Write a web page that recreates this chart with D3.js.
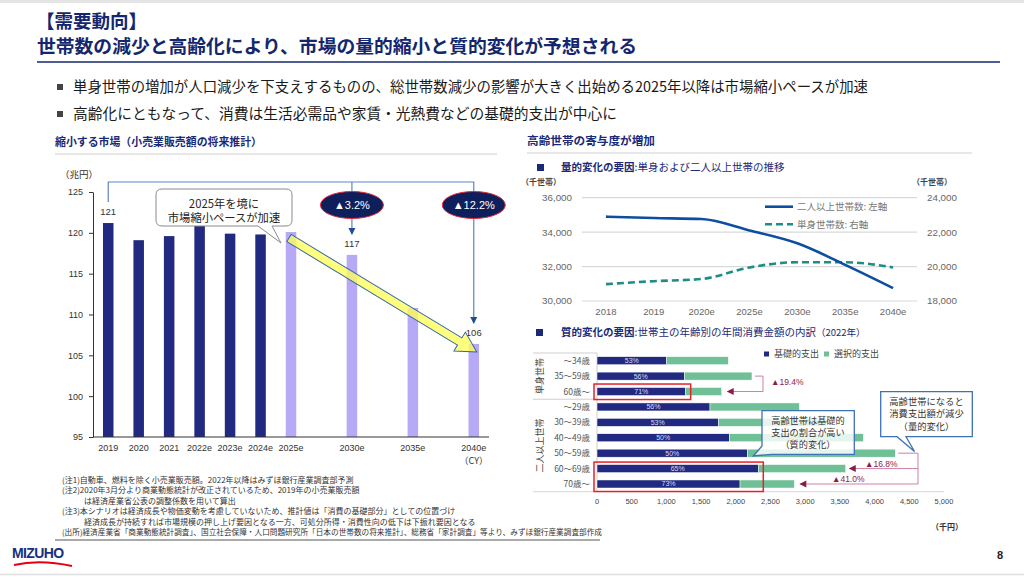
<!DOCTYPE html>
<html><head><meta charset="utf-8">
<script src="https://cdn.jsdelivr.net/npm/d3@7"></script>
<style>
body{margin:0;background:#fff;}
svg{display:block;}
</style></head><body>
<svg id="c" width="1024" height="577"></svg>
<script>
// ---------------- DATA ----------------
const retailSlots = ["2019","2020","2021","2022e","2023e","2024e","2025e","_a","2030e","_b","2035e","_c","2040e"];
const retailYears = ["2019","2020","2021","2022e","2023e","2024e","2025e","2030e","2035e","2040e"];
const retailValues = [121.2,119.1,119.6,120.9,119.9,119.8,120.1,117.3,110.8,106.4];
const shrinkPhaseYears = ["2025e","2030e","2035e","2040e"];
const retailValueLabels = [["2019","121"],["2030e","117"],["2040e","106"]];
const retailChangeLabels = [["2030e","▲3.2%"],["2040e","▲12.2%"]];
const retailYTicks = [95,100,105,110,115,120,125];

const hhYears = ["2018","2019","2020e","2025e","2030e","2035e","2040e"];
const hhMulti = [34900,34820,34760,34100,33350,32100,30750];
const hhSingle = [18980,19150,19280,19950,20250,20250,19950];
const hhLeftTicks = [30000,32000,34000,36000];
const hhRightTicks = [18000,20000,22000,24000];
const hhSeriesNames = ["二人以上世帯数: 左軸","単身世帯数: 右軸"];

const ageGroups = ["～34歳","35～59歳","60歳～","～29歳","30～39歳","40～49歳","50～59歳","60～69歳","70歳～"];
const householdTypes = ["単身世帯","二人以上世帯"];
const householdRows = [[0,2],[3,8]];
const basicSpend = [1004,1258,1278,1628,1748,1906,2171,2324,2061];
const optionalSpend = [888,975,519,1287,1550,1931,2127,1260,782];
const basicShareLabels = ["53%","56%","71%","56%","53%","50%","50%","65%","73%"];
const spendTicks = [0,500,1000,1500,2000,2500,3000,3500,4000,4500,5000];
const spendSeriesNames = ["基礎的支出","選択的支出"];
const declineLabels = ["▲19.4%","▲16.8%","▲41.0%"];

// ---------------- SETUP ----------------
const svg = d3.select("#c");
const FJ = '"Noto Sans CJK JP","Liberation Sans",sans-serif';
const FA = '"Liberation Sans","Noto Sans CJK JP",sans-serif';
const NAVY = "#1B2A78", TITLE = "#14276E";
function T(x,y,s,size,o={}){
  const t = svg.append("text").attr("x",x).attr("y",y).attr("dy","0.35em")
    .attr("font-size",size).attr("font-family",o.family||FJ)
    .attr("fill",o.fill||"#222").attr("font-weight",o.weight||"normal")
    .attr("text-anchor",o.anchor||"start").text(s);
  if(o.tl) t.attr("textLength",o.tl).attr("lengthAdjust","spacingAndGlyphs");
  return t;
}
function L(x1,y1,x2,y2,c,w){svg.append("line").attr("x1",x1).attr("y1",y1).attr("x2",x2).attr("y2",y2).attr("stroke",c).attr("stroke-width",w||1);}

// page frame
svg.append("rect").attr("x",0).attr("y",0).attr("width",1024).attr("height",3).attr("fill","#e4e4e4");
L(0,574.5,1024,574.5,"#e0e0e0",1.5);

// title
T(36,22,"【需要動向】",18.5,{weight:"bold",fill:TITLE});
T(37,47,"世帯数の減少と高齢化により、市場の量的縮小と質的変化が予想される",18.5,{weight:"bold",fill:TITLE,tl:600});
L(37,62,1000,62,TITLE,1.5);
svg.append("rect").attr("x",57).attr("y",84).attr("width",6).attr("height",6).attr("fill","#444");
svg.append("rect").attr("x",57).attr("y",111).attr("width",6).attr("height",6).attr("fill","#444");
T(73,87,"単身世帯の増加が人口減少を下支えするものの、総世帯数減少の影響が大きく出始める2025年以降は市場縮小ペースが加速",14.5,{fill:"#1a1a1a",tl:795});
T(73,114,"高齢化にともなって、消費は生活必需品や家賃・光熱費などの基礎的支出が中心に",14.5,{fill:"#1a1a1a",tl:544});

// section headers
T(55,142,"縮小する市場（小売業販売額の将来推計）",11,{weight:"bold",fill:NAVY,tl:207});
L(55,154,497,154,"#cfcfcf",1.2);
T(527,141,"高齢世帯の寄与度が増加",11,{weight:"bold",fill:NAVY,tl:128});
L(527,153,972,153,"#cfcfcf",1.2);

// ---------------- LEFT CHART ----------------
const xL = d3.scaleBand(retailSlots,[93,489]).paddingInner(0.655).paddingOuter(0.3275);
const yL = d3.scaleLinear([95,125],[437,192]);
const bw = xL.bandwidth();
const cx = c => xL(c)+bw/2;

T(60,175,"（兆円）",9.5,{fill:"#333"});
const ax = svg.append("g").attr("transform","translate(93,0)")
  .call(d3.axisLeft(yL).tickValues(retailYTicks).tickSize(4).tickPadding(6).tickSizeOuter(0));
ax.selectAll("path,line").attr("stroke","#333");
ax.selectAll("text").attr("font-size",9).attr("font-family",FA).attr("fill","#333");

svg.append("g").selectAll("rect").data(retailYears).join("rect")
  .attr("x",d=>xL(d)).attr("width",bw)
  .attr("y",(d,i)=>yL(retailValues[i])).attr("height",(d,i)=>yL(95)-yL(retailValues[i]))
  .attr("fill",d=>shrinkPhaseYears.includes(d)?"#B6AAF6":"#212A80");
L(93,437,489,437,"#333",1);
retailYears.forEach(c=>T(cx(c),448,c,9,{family:FA,fill:"#333",anchor:"middle"}));
T(cx("2040e"),461,"（CY）",9,{fill:"#333",anchor:"middle"});

// brackets
const valOf = c => retailValues[retailYears.indexOf(c)];
const brY = 182;
const BL = "#5A86C5", BA = "#1F4E99";
svg.append("path").attr("fill","none").attr("stroke",BL).attr("stroke-width",1.2)
  .attr("d",`M${cx("2019")},${yL(valOf("2019"))-21}V${brY}H${cx("2040e")}V${yL(valOf("2040e"))-21}M${cx("2030e")},${brY}V${yL(valOf("2030e"))-21}`);
["2030e","2040e"].forEach(c=>{
  const tx=cx(c), ty=yL(valOf(c))-20;
  svg.append("path").attr("d",`M${tx-3.5},${ty-7}L${tx+3.5},${ty-7}L${tx},${ty}Z`).attr("fill",BA);
});
retailValueLabels.forEach(([c,s])=>T(cx(c),yL(valOf(c))-11,s,9.5,{family:FA,fill:"#333",anchor:"middle"}));
retailChangeLabels.forEach(([c,s])=>{
  svg.append("ellipse").attr("cx",cx(c)).attr("cy",205).attr("rx",31.5).attr("ry",13.5)
    .attr("fill","#0E1F5C").attr("stroke","#E0303C").attr("stroke-width",1);
  T(cx(c),205,s,11,{family:FA,fill:"#fff",anchor:"middle"});
});

// yellow trend arrow
{
  const x0=cx("2025e")-2, y0=yL(valOf("2025e"))+6, x1=cx("2040e")+3, y1=yL(valOf("2040e"))+8;
  const len=Math.hypot(x1-x0,y1-y0), ang=Math.atan2(y1-y0,x1-x0)*180/Math.PI;
  const sw=4.2, hw=11, hl=20;
  svg.append("path").attr("transform",`translate(${x0},${y0}) rotate(${ang})`)
    .attr("d",`M0,${-sw}L${len-hl},${-sw}L${len-hl},${-hw}L${len},0L${len-hl},${hw}L${len-hl},${sw}L0,${sw}Z`)
    .attr("fill","rgba(255,255,90,0.78)").attr("stroke","#3565A8").attr("stroke-width",1);
}
// callout
svg.append("path").attr("d","M162,189H286Q292,189 292,195V220Q292,226 286,226H272L281,243L258,226H162Q156,226 156,220V195Q156,189 162,189Z")
  .attr("fill","#fff").attr("stroke","#8a8a8a").attr("stroke-width",1);
T(224,204,"2025年を境に",11.3,{anchor:"middle",fill:"#222"});
T(224,218.5,"市場縮小ペースが加速",11.3,{anchor:"middle",fill:"#222"});

// footnotes
const fn = [
  [62,480,"(注1)自動車、燃料を除く小売業販売額。2022年以降はみずほ銀行産業調査部予測",null],
  [62,490.5,"(注2)2020年3月分より商業動態統計が改正されているため、2019年の小売業販売額",null],
  [84,501,"は経済産業省公表の調整係数を用いて算出",null],
  [62,511.5,"(注3)本シナリオは経済成長や物価変動を考慮していないため、推計値は「消費の基礎部分」としての位置づけ",null],
  [84,522,"経済成長が持続すれば市場規模の押し上げ要因となる一方、可処分所得・消費性向の低下は下振れ要因となる",null],
  [62,532.5,"(出所)経済産業省「商業動態統計調査」、国立社会保障・人口問題研究所「日本の世帯数の将来推計」、総務省「家計調査」等より、みずほ銀行産業調査部作成",540]
];
fn.forEach(([x,y,s,tl])=>T(x,y,s,8,{fill:"#333",tl:tl||undefined}));
L(55,540,600,540,"#555",1);

// logo & page
T(12,553,"MIZUHO",14,{family:FA,weight:"bold",fill:"#17307E"}).attr("letter-spacing",-0.6);
svg.append("path").attr("d","M14,565Q40,559 72,566").attr("fill","none").attr("stroke","#E60012").attr("stroke-width",2);
T(1000,555,"8",11,{family:FA,weight:"bold",fill:"#222",anchor:"middle"});

// ---------------- RIGHT TOP CHART ----------------
svg.append("rect").attr("x",537).attr("y",164).attr("width",7).attr("height",7).attr("fill",NAVY);
{
  const t=T(561,167.5,"",10.5,{fill:NAVY});
  t.append("tspan").attr("font-weight","bold").text("量的変化の要因");
  t.append("tspan").text(":単身および二人以上世帯の推移");
}
T(541,182,"（千世帯）",8,{anchor:"middle",fill:"#444",weight:"bold"});
T(932,182,"（千世帯）",8,{anchor:"middle",fill:"#444",weight:"bold"});
const xH = d3.scalePoint(hhYears,[582,917]).padding(0.5);
const yHL = d3.scaleLinear([30000,36000],[301,197.7]);
const yHR = d3.scaleLinear([18000,24000],[301,197.7]);
hhLeftTicks.forEach(v=>{ L(582,yHL(v),917,yHL(v),"#d9d9d9",1.2);
  T(572,yHL(v),d3.format(",")(v),9.8,{family:FA,fill:"#666",anchor:"end"}); });
hhRightTicks.forEach(v=>T(927,yHR(v),d3.format(",")(v),9.8,{family:FA,fill:"#666"}));
hhYears.forEach(c=>T(xH(c),312,c,9.5,{family:FA,fill:"#666",anchor:"middle"}));
const lnL = d3.line().x((d,i)=>xH(hhYears[i])).y(d=>yHL(d)).curve(d3.curveMonotoneX);
const lnR = d3.line().x((d,i)=>xH(hhYears[i])).y(d=>yHR(d)).curve(d3.curveMonotoneX);
svg.append("path").attr("d",lnR(hhSingle)).attr("fill","none").attr("stroke","#1F8C85").attr("stroke-width",2.6).attr("stroke-dasharray","7,4");
svg.append("path").attr("d",lnL(hhMulti)).attr("fill","none").attr("stroke","#0C4EA2").attr("stroke-width",2.6);
L(765,206.7,793,206.7,"#0C4EA2",2.6);
svg.append("line").attr("x1",765).attr("y1",224.3).attr("x2",793).attr("y2",224.3).attr("stroke","#1F8C85").attr("stroke-width",2.6).attr("stroke-dasharray","7,4");
T(797,206.7,hhSeriesNames[0],9.5,{fill:"#777"});
T(797,224.3,hhSeriesNames[1],9.5,{fill:"#777"});

// ---------------- RIGHT BOTTOM CHART ----------------
svg.append("rect").attr("x",536).attr("y",329).attr("width",7).attr("height",7).attr("fill",NAVY);
{
  const t=T(561,332.7,"",10.5,{fill:NAVY});
  t.append("tspan").attr("font-weight","bold").text("質的変化の要因");
  t.append("tspan").text(":世帯主の年齢別の年間消費金額の内訳");
  t.append("tspan").attr("font-size",9.5).text("（2022年）");
}
const xS = d3.scaleLinear([0,5000],[597,944]);
const yS = d3.scaleBand(ageGroups,[353,491.7]).paddingInner(0.48).paddingOuter(0.24);
const bh = yS.bandwidth();
const yc = i => yS(ageGroups[i])+bh/2;
const tot = i => basicSpend[i]+optionalSpend[i];

// legend
svg.append("rect").attr("x",764).attr("y",351.5).attr("width",5).attr("height",5).attr("fill","#212A80");
T(774,354.3,spendSeriesNames[0],9,{fill:"#444"});
svg.append("rect").attr("x",824).attr("y",351.5).attr("width",5).attr("height",5).attr("fill","#6FBF97");
T(834,354.3,spendSeriesNames[1],9,{fill:"#444"});

// group frame lines
const step = yS.step();
L(533,353,597,353,"#cfcfcf",1);
L(533,yS(ageGroups[3])-(step-bh)/2,597,yS(ageGroups[3])-(step-bh)/2,"#cfcfcf",1);
L(533,491.7,944,491.7,"#d6d6d6",1);
L(597,353,597,491.7,"#cfcfcf",1);

svg.append("g").selectAll("rect").data(ageGroups).join("rect")
  .attr("x",xS(0)).attr("y",d=>yS(d)).attr("height",bh)
  .attr("width",(d,i)=>xS(basicSpend[i])-xS(0)).attr("fill","#212A80").attr("stroke","#fff").attr("stroke-width",0.5);
svg.append("g").selectAll("rect").data(ageGroups).join("rect")
  .attr("x",(d,i)=>xS(basicSpend[i])).attr("y",d=>yS(d)).attr("height",bh)
  .attr("width",(d,i)=>xS(tot(i))-xS(basicSpend[i])).attr("fill","#6FBF97").attr("stroke","#fff").attr("stroke-width",0.5);
ageGroups.forEach((d,i)=>{
  T((xS(0)+xS(basicSpend[i]))/2,yc(i),basicShareLabels[i],7,{family:FA,fill:"#d8dcf4",anchor:"middle"});
  T(590,yc(i),d,8.5,{fill:"#555",anchor:"end"});
});
householdTypes.forEach((h,k)=>{
  const [a,b]=householdRows[k]; const my=(yc(a)+yc(b))/2;
  svg.append("text").attr("transform",`translate(543,${my}) rotate(-90)`).attr("text-anchor","middle")
    .attr("font-size",9).attr("font-family",FJ).attr("fill","#444").text(h);
});
spendTicks.forEach(v=>T(xS(v),501.7,d3.format(",")(v),7.5,{family:FA,fill:"#444",anchor:"middle"}));
T(947,527,"（千円）",8,{fill:"#333",anchor:"middle",weight:"bold"});

// red highlight boxes
svg.append("rect").attr("x",594).attr("y",yS(ageGroups[2])-3.5).attr("width",xS(basicSpend[2])+5-594).attr("height",bh+7.5)
  .attr("fill","none").attr("stroke","#E8202A").attr("stroke-width",1.5);
svg.append("rect").attr("x",594).attr("y",yS(ageGroups[7])-2.5).attr("width",xS(basicSpend[7])+5-594).attr("height",yS(ageGroups[8])+bh+3.5-yS(ageGroups[7])+2.5)
  .attr("fill","none").attr("stroke","#E8202A").attr("stroke-width",1.5);

// decline brackets
const PK="#CF7FA8", MR="#8E1A47";
function leftArrow(x,y){svg.append("path").attr("d",`M${x},${y}L${x+7},${y-3.5}L${x+7},${y+3.5}Z`).attr("fill",MR);}
svg.append("path").attr("fill","none").attr("stroke",PK).attr("stroke-width",1)
  .attr("d",`M${xS(tot(1))+3},${yc(1)}H763V${yc(2)}H${xS(tot(2))+6}`);
leftArrow(xS(tot(2))+5,yc(2));
svg.append("path").attr("fill","none").attr("stroke",PK).attr("stroke-width",1)
  .attr("d",`M${xS(tot(6))+3},${yc(6)}H918V${yc(8)}H${xS(tot(8))+6}M918,${yc(7)}H${xS(tot(7))+4}`);
leftArrow(xS(tot(7))+3,yc(7));
leftArrow(xS(tot(8))+5,yc(8));
T(771,382.5,declineLabels[0],8.5,{family:FA,fill:MR});
T(865,464.3,declineLabels[1],8.5,{family:FA,fill:MR});
T(832,478.7,declineLabels[2],8.5,{family:FA,fill:MR});

// callouts
svg.append("path").attr("d","M762,410.7H854.3V454.3H772L753.3,456L762,446Z")
  .attr("fill","rgba(255,255,255,0.82)").attr("stroke","#3F72B5").attr("stroke-width",1.3);
["高齢世帯は基礎的","支出の割合が高い","（質的変化）"].forEach((s,i)=>T(808,420.3+i*12.3,s,9.2,{anchor:"middle",fill:"#333"}));
svg.append("path").attr("d","M880.7,391.7H972.3V436.7H906L914.5,451.5L897,436.7H880.7Z")
  .attr("fill","#fff").attr("stroke","#3F72B5").attr("stroke-width",1.3);
["高齢世帯になると","消費支出額が減少","（量的変化）"].forEach((s,i)=>T(926.5,401.7+i*12.5,s,9.3,{anchor:"middle",fill:"#333"}));
</script>
</body></html>
